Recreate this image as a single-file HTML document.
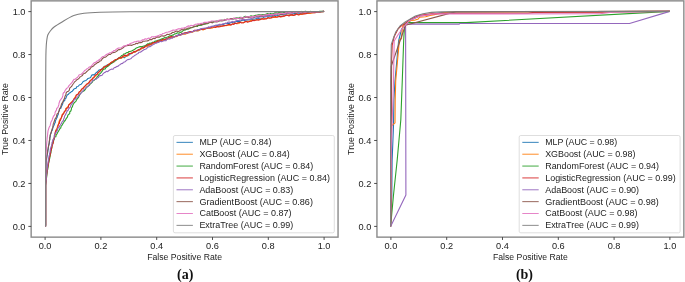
<!DOCTYPE html>
<html><head><meta charset="utf-8"><title>ROC curves</title>
<style>
html,body{margin:0;padding:0;background:#fff;}
body{width:685px;height:282px;overflow:hidden;font-family:"Liberation Sans",sans-serif;}
svg{display:block;will-change:transform;font-family:"Liberation Sans",sans-serif;}
</style></head><body>
<svg width="685" height="282" viewBox="0 0 685 282">
<rect width="685" height="282" fill="#fff"/>
<g transform="translate(0.00,0)">
<g fill="none" stroke-width="1.10" stroke-linejoin="round" stroke-linecap="butt">
<path d="M45.5 226.4 L45.6 225.0 L45.6 223.6 L45.6 222.2 L45.6 220.8 L45.6 219.4 L45.6 218.0 L45.6 216.6 L45.6 215.1 L45.6 213.7 L45.6 212.3 L45.6 210.9 L45.6 209.5 L45.6 208.1 L45.6 206.7 L45.6 205.3 L45.6 203.9 L45.6 202.5 L45.6 201.1 L45.6 199.7 L45.6 198.3 L45.6 196.9 L45.6 195.5 L45.6 194.1 L45.6 192.6 L45.6 191.2 L45.6 189.8 L45.6 188.4 L45.6 187.0 L45.6 185.6 L45.6 184.2 L45.6 182.8 L45.6 181.4 L45.6 180.0 L45.6 178.6 L45.7 177.2 L45.7 175.8 L45.8 174.4 L45.8 173.0 L45.9 171.6 L45.9 170.2 L46.0 168.7 L46.0 167.3 L46.0 165.9 L46.1 164.5 L46.1 163.1 L46.2 161.7 L46.3 160.3 L46.6 159.0 L46.8 157.6 L47.0 156.2 L47.2 154.8 L47.5 153.3 L47.7 152.0 L47.9 150.6 L48.2 149.3 L48.4 147.8 L48.5 146.3 L48.8 145.1 L49.2 143.8 L49.4 142.4 L49.5 141.1 L49.8 139.3 L49.8 137.8 L50.3 136.6 L50.3 135.4 L50.8 133.7 L51.2 132.7 L51.6 131.2 L52.4 130.0 L52.7 128.7 L53.0 127.3 L53.7 125.7 L54.0 125.3 L54.8 123.1 L55.3 122.5 L55.4 120.3 L56.0 119.8 L56.5 118.4 L57.3 116.9 L57.4 116.1 L58.3 114.2 L58.3 113.0 L58.9 111.6 L59.3 110.4 L59.8 108.7 L61.0 108.1 L61.2 106.9 L61.8 105.7 L62.7 103.8 L63.0 102.1 L64.1 100.8 L64.7 100.7 L65.1 98.5 L66.0 98.2 L66.5 96.4 L67.2 95.1 L68.1 94.6 L69.3 93.1 L70.2 92.8 L71.4 91.6 L72.4 91.2 L73.9 89.2 L74.5 88.7 L76.1 88.3 L76.7 86.7 L78.0 86.5 L79.3 85.0 L80.4 84.6 L81.2 84.2 L82.2 83.0 L83.2 81.5 L85.0 80.8 L86.0 80.4 L87.2 79.3 L88.0 78.4 L89.5 77.9 L90.7 77.4 L91.2 76.2 L92.3 74.7 L93.4 74.9 L95.1 74.0 L95.9 72.9 L97.4 71.8 L98.3 70.8 L99.1 70.0 L100.8 69.6 L102.0 68.6 L102.7 68.2 L104.3 66.5 L105.4 65.9 L106.2 66.2 L107.4 64.7 L109.3 64.2 L109.9 63.2 L111.2 63.2 L112.3 62.7 L113.7 62.1 L115.3 60.5 L116.1 60.1 L117.2 59.6 L118.4 58.3 L120.5 58.3 L121.5 58.0 L122.7 57.2 L124.4 57.8 L125.8 56.3 L126.5 56.2 L128.2 55.4 L129.3 54.9 L130.2 54.1 L131.5 53.1 L132.6 52.5 L134.5 52.1 L135.6 51.8 L137.0 50.9 L137.8 50.2 L139.1 50.2 L140.8 48.9 L141.7 48.6 L143.1 48.1 L144.1 46.8 L145.4 46.2 L146.9 45.6 L147.8 45.7 L149.2 45.3 L150.7 44.7 L151.7 43.7 L153.4 42.6 L154.8 42.1 L156.0 42.7 L157.4 41.5 L158.2 41.3 L160.2 40.6 L161.5 40.1 L162.9 39.5 L163.8 40.2 L165.5 39.8 L166.8 39.2 L168.1 38.1 L169.2 37.6 L170.8 37.8 L171.8 36.7 L173.7 37.2 L174.7 36.5 L176.3 36.0 L177.3 35.4 L178.5 34.6 L180.2 34.7 L181.5 33.9 L182.7 33.6 L183.8 33.3 L185.7 33.2 L186.8 33.1 L188.0 32.0 L189.6 32.3 L191.0 31.8 L192.4 31.8 L193.5 31.2 L195.0 30.5 L196.3 30.6 L198.0 30.7 L199.0 30.0 L200.2 29.0 L201.9 29.6 L203.0 29.2 L204.9 28.3 L206.1 28.6 L207.2 28.1 L208.9 27.6 L210.3 27.7 L211.7 27.0 L212.5 26.2 L213.9 26.3 L215.7 25.3 L217.0 25.8 L218.1 25.2 L219.4 25.2 L220.7 25.1 L222.6 24.4 L223.6 24.4 L225.4 23.2 L226.7 23.8 L228.0 23.4 L229.2 23.4 L231.0 22.5 L232.2 22.4 L233.2 22.0 L234.5 22.5 L236.5 21.3 L237.7 21.4 L238.7 21.1 L240.2 21.4 L241.4 20.5 L243.1 20.1 L244.6 20.6 L246.2 19.9 L247.1 20.0 L248.5 19.9 L249.9 19.7 L251.7 19.7 L253.2 19.1 L254.2 19.3 L255.8 18.7 L256.9 18.1 L258.1 18.5 L259.5 18.2 L261.2 18.3 L262.8 18.1 L263.7 17.3 L265.4 16.8 L266.7 16.6 L268.1 16.0 L269.5 16.3 L270.8 16.0 L272.5 16.1 L273.7 15.9 L275.0 15.1 L276.1 15.0 L277.9 15.6 L279.5 15.0 L281.0 14.8 L282.3 14.6 L283.6 15.1 L284.7 14.0 L286.3 14.3 L287.5 13.5 L289.0 13.9 L290.4 14.2 L291.9 13.9 L293.5 13.8 L294.6 13.6 L296.1 13.4 L297.5 12.9 L298.9 13.1 L300.5 13.2 L301.9 13.1 L303.2 12.8 L304.4 12.4 L306.0 12.9 L307.3 12.2 L308.8 12.4 L310.1 12.0 L311.5 12.3 L312.8 12.0 L314.3 11.8 L315.7 12.1 L317.1 11.8 L318.5 11.8 L319.9 11.6 L321.3 11.6 L322.7 11.5 L324.1 11.4" stroke="#1f77b4"/>
<path d="M45.5 226.4 L45.6 225.0 L45.6 223.6 L45.6 222.2 L45.6 220.8 L45.6 219.4 L45.6 218.0 L45.6 216.6 L45.6 215.1 L45.6 213.7 L45.6 212.3 L45.6 210.9 L45.6 209.5 L45.6 208.1 L45.6 206.7 L45.6 205.3 L45.6 203.9 L45.6 202.5 L45.6 201.1 L45.6 199.7 L45.6 198.3 L45.6 196.9 L45.6 195.5 L45.6 194.1 L45.6 192.6 L45.6 191.2 L45.6 189.8 L45.6 188.4 L45.6 187.0 L45.6 185.6 L45.7 184.2 L45.8 182.8 L45.9 181.4 L46.1 180.0 L46.2 178.6 L46.3 177.2 L46.5 175.8 L46.6 174.4 L46.7 173.0 L46.8 171.6 L47.0 170.3 L47.2 168.7 L47.5 167.5 L47.8 166.0 L48.0 164.5 L48.3 163.2 L48.5 162.1 L48.7 160.5 L49.2 159.0 L49.3 158.0 L49.6 156.5 L49.8 154.9 L50.1 153.8 L50.4 152.6 L50.7 151.1 L51.0 149.3 L51.6 147.9 L51.6 147.0 L52.1 145.0 L52.7 143.7 L52.5 142.5 L53.2 141.6 L53.2 139.8 L53.5 138.5 L54.3 137.5 L54.8 136.2 L55.1 134.7 L55.1 132.8 L55.6 131.5 L55.7 130.4 L56.8 128.7 L57.1 127.7 L57.5 126.1 L58.4 124.9 L58.6 123.8 L58.7 122.7 L59.3 120.8 L59.8 119.6 L60.3 118.8 L61.2 117.9 L62.0 116.7 L62.1 114.7 L62.9 113.8 L64.0 112.9 L64.9 111.1 L65.5 110.2 L66.0 108.5 L67.1 107.5 L68.1 106.5 L68.5 105.3 L69.4 104.2 L70.5 103.3 L71.2 102.5 L72.0 101.7 L73.4 100.3 L73.9 99.0 L74.9 97.3 L75.6 96.8 L76.3 95.1 L77.6 94.4 L78.3 93.9 L79.2 92.0 L80.4 91.1 L80.7 90.5 L81.8 89.0 L83.3 88.5 L83.7 87.2 L85.0 86.2 L85.8 85.4 L86.7 84.0 L87.9 83.8 L88.7 82.6 L89.8 81.4 L90.9 80.3 L92.2 79.2 L92.7 77.8 L93.6 77.7 L95.0 76.8 L96.0 74.7 L97.0 74.6 L98.0 73.2 L98.7 72.2 L100.0 70.9 L100.8 70.2 L102.1 69.5 L103.1 68.6 L103.7 67.0 L105.1 66.3 L106.2 66.1 L107.8 65.3 L108.9 63.9 L109.8 64.3 L110.8 62.9 L112.0 61.7 L113.8 62.1 L114.8 60.3 L115.7 59.7 L117.2 59.5 L118.3 58.8 L119.4 58.4 L121.4 58.2 L122.1 57.5 L123.9 56.7 L125.3 56.5 L126.4 55.8 L127.9 55.6 L128.8 54.1 L130.0 53.3 L131.4 53.8 L132.3 52.7 L133.8 52.0 L135.3 52.1 L136.5 50.9 L138.0 50.2 L139.1 50.0 L140.4 49.6 L141.3 48.8 L142.7 48.2 L144.4 47.6 L145.0 46.8 L146.8 46.7 L148.0 46.1 L148.8 45.6 L150.6 44.6 L152.0 44.4 L152.7 43.7 L154.5 42.4 L155.8 42.5 L156.8 42.3 L158.1 41.7 L159.7 40.9 L161.1 40.7 L162.2 40.9 L163.4 39.4 L165.1 40.0 L166.6 39.5 L167.8 39.0 L169.0 38.1 L170.5 37.4 L171.5 37.9 L173.0 37.5 L174.7 36.7 L176.0 36.8 L177.5 35.6 L178.3 35.5 L179.9 35.0 L180.9 34.9 L183.0 34.3 L184.0 33.9 L185.3 34.2 L186.6 33.5 L188.1 33.1 L189.7 32.2 L191.0 32.1 L192.3 32.3 L193.7 31.5 L195.2 30.8 L196.4 30.8 L197.7 31.0 L199.2 30.4 L200.2 29.6 L201.7 29.3 L203.0 29.9 L204.2 29.5 L205.8 28.7 L207.1 28.1 L208.6 28.0 L210.0 27.8 L211.7 28.3 L212.8 27.7 L214.5 27.1 L215.3 26.7 L216.7 27.0 L218.2 26.4 L219.9 26.0 L221.3 26.2 L222.4 26.2 L223.7 26.0 L225.5 25.3 L226.8 25.6 L228.2 25.1 L229.7 25.1 L231.0 24.9 L232.0 24.3 L233.7 23.7 L234.9 23.3 L236.7 23.2 L237.7 23.7 L238.9 23.5 L240.2 22.2 L241.8 22.3 L243.6 22.7 L244.9 22.0 L246.1 21.5 L247.7 21.4 L248.7 21.5 L250.0 20.9 L251.9 20.4 L252.7 20.3 L254.2 20.3 L255.6 20.0 L257.0 19.6 L258.6 19.5 L259.8 19.8 L261.0 18.8 L263.0 18.9 L264.3 18.4 L265.5 19.0 L266.7 18.7 L268.3 18.0 L270.0 17.7 L271.0 17.8 L272.3 17.8 L273.9 17.3 L275.2 17.5 L276.9 17.2 L277.9 16.5 L279.4 15.9 L280.5 16.9 L281.9 16.7 L283.7 16.5 L284.7 15.7 L286.6 15.2 L287.5 15.4 L288.9 15.1 L290.7 14.9 L292.3 15.4 L293.1 15.5 L294.6 14.9 L296.2 14.3 L297.6 14.1 L298.8 15.0 L300.6 14.3 L301.9 14.5 L302.9 14.0 L304.3 13.4 L305.7 13.4 L307.1 13.2 L308.7 13.4 L310.3 13.4 L311.6 12.9 L313.1 12.6 L314.2 12.7 L315.8 12.3 L317.1 12.2 L318.5 12.1 L319.9 12.0 L321.3 11.7 L322.7 11.6 L324.1 11.4" stroke="#ff7f0e"/>
<path d="M45.5 226.4 L45.6 225.0 L45.6 223.6 L45.6 222.2 L45.6 220.8 L45.6 219.4 L45.6 218.0 L45.6 216.6 L45.6 215.1 L45.6 213.7 L45.6 212.3 L45.6 210.9 L45.6 209.5 L45.6 208.1 L45.6 206.7 L45.6 205.3 L45.6 203.9 L45.6 202.5 L45.6 201.1 L45.6 199.7 L45.6 198.3 L45.6 196.9 L45.6 195.5 L45.6 194.1 L45.6 192.6 L45.6 191.2 L45.6 189.8 L45.6 188.4 L45.6 187.0 L45.6 185.6 L45.7 184.2 L45.9 182.8 L46.1 181.4 L46.2 180.0 L46.4 178.7 L46.6 177.3 L46.8 175.8 L46.9 174.5 L47.2 173.0 L47.3 171.6 L47.5 170.2 L47.8 169.0 L48.0 167.6 L48.2 166.0 L48.5 164.6 L48.6 163.3 L49.0 161.8 L49.1 160.8 L49.4 159.4 L49.9 157.7 L50.0 156.4 L50.3 155.1 L50.5 153.7 L51.0 152.3 L51.0 151.1 L51.2 149.4 L51.8 148.2 L51.8 146.3 L52.1 145.5 L52.3 144.2 L53.1 142.2 L53.5 141.3 L53.9 139.8 L54.4 139.0 L54.6 137.0 L55.8 136.8 L56.2 135.0 L57.2 133.6 L57.7 132.4 L58.4 131.5 L59.1 130.0 L60.1 128.4 L60.7 128.0 L61.2 126.2 L62.3 125.0 L62.6 124.1 L63.7 122.5 L64.1 121.5 L65.2 120.5 L66.0 118.9 L66.4 118.3 L67.5 116.9 L67.8 115.3 L68.8 114.2 L69.7 113.8 L69.8 111.8 L70.8 111.0 L71.4 109.3 L71.5 108.0 L72.5 106.7 L72.7 105.5 L73.3 104.2 L74.3 102.7 L74.5 102.5 L75.9 101.4 L76.4 100.2 L77.6 98.2 L78.3 97.8 L79.0 96.2 L79.6 94.9 L80.3 93.4 L81.4 92.6 L82.6 91.3 L83.7 91.1 L84.7 90.3 L85.6 88.9 L86.0 88.1 L87.1 86.6 L88.5 85.9 L89.3 85.4 L90.4 83.7 L91.1 83.3 L92.3 82.2 L93.2 80.5 L94.3 80.3 L95.0 79.2 L96.5 78.2 L97.4 76.2 L98.2 76.2 L98.8 74.5 L99.9 73.8 L101.0 72.7 L102.2 71.1 L102.7 70.2 L103.7 69.1 L105.2 69.0 L105.7 67.7 L107.0 66.7 L108.1 66.2 L109.4 65.0 L110.2 64.1 L111.3 63.5 L112.8 62.4 L113.5 61.3 L114.8 61.0 L116.2 59.9 L117.4 59.3 L118.2 58.2 L119.4 57.7 L120.5 56.9 L121.6 55.5 L122.8 55.2 L123.6 54.1 L125.0 53.8 L126.7 52.6 L128.0 52.6 L128.8 51.6 L130.0 51.5 L131.6 51.0 L133.0 50.2 L134.3 49.5 L135.1 49.0 L136.4 47.9 L138.2 47.3 L139.1 46.9 L140.9 46.5 L141.6 46.8 L143.0 46.3 L144.7 45.8 L146.3 45.0 L147.5 43.9 L148.8 43.9 L150.0 42.9 L151.4 43.4 L152.2 42.2 L153.9 42.3 L155.0 41.1 L156.3 41.1 L158.0 40.3 L159.0 39.9 L160.3 39.4 L161.4 39.0 L163.4 38.4 L164.6 37.6 L165.8 37.9 L167.1 37.1 L168.3 36.7 L169.9 35.7 L170.7 35.9 L172.6 35.1 L173.6 34.9 L174.7 33.9 L176.0 33.7 L177.4 32.8 L179.0 33.2 L180.1 32.4 L181.5 32.1 L182.9 30.9 L183.9 30.1 L185.4 29.9 L186.5 29.3 L187.8 29.2 L189.0 28.9 L190.5 27.8 L191.8 27.7 L193.5 27.0 L194.6 26.8 L196.2 26.1 L197.5 26.4 L198.6 25.2 L199.8 25.4 L201.5 25.3 L203.0 24.1 L203.9 23.8 L205.2 23.9 L207.1 23.8 L208.0 23.4 L209.4 22.5 L211.1 21.8 L212.0 22.3 L213.5 21.5 L215.1 21.7 L216.1 21.0 L217.8 21.0 L219.0 20.9 L220.9 20.5 L222.0 20.0 L223.2 20.4 L224.5 20.5 L226.5 19.3 L227.9 19.5 L229.1 19.7 L230.2 19.4 L231.8 19.3 L232.9 19.1 L234.8 18.8 L235.9 17.9 L237.3 18.0 L238.8 18.1 L240.1 17.3 L241.6 17.7 L242.6 17.8 L244.4 16.6 L245.9 16.4 L246.9 16.9 L248.5 16.5 L249.9 16.2 L251.1 15.7 L252.3 16.2 L254.2 15.8 L255.6 15.4 L256.6 15.3 L258.4 14.7 L259.6 14.8 L261.2 14.7 L262.2 14.6 L263.8 14.9 L265.1 14.8 L266.3 14.0 L267.7 13.6 L269.6 14.2 L270.5 13.4 L272.1 13.9 L273.8 13.7 L275.0 12.8 L276.3 12.7 L277.8 13.1 L278.9 12.6 L280.7 12.2 L282.2 13.1 L283.7 12.4 L284.8 12.5 L286.2 12.9 L287.7 12.0 L289.2 12.1 L290.4 12.3 L291.4 12.3 L293.3 11.9 L294.6 11.8 L295.8 11.9 L297.1 11.8 L298.9 11.7 L300.2 12.3 L301.9 11.4 L303.2 11.9 L304.2 11.6 L305.7 11.3 L307.2 12.0 L308.6 11.9 L310.1 11.4 L311.6 11.7 L313.0 11.7 L314.3 11.5 L315.7 11.7 L317.1 11.5 L318.5 11.5 L319.8 11.4 L321.3 11.4 L322.7 11.4 L324.1 11.4" stroke="#2ca02c"/>
<path d="M45.5 226.4 L45.6 225.0 L45.6 223.6 L45.6 222.2 L45.6 220.8 L45.6 219.4 L45.6 218.0 L45.6 216.6 L45.6 215.1 L45.6 213.7 L45.6 212.3 L45.6 210.9 L45.6 209.5 L45.6 208.1 L45.6 206.7 L45.6 205.3 L45.6 203.9 L45.6 202.5 L45.6 201.1 L45.6 199.7 L45.6 198.3 L45.6 196.9 L45.6 195.5 L45.6 194.0 L45.6 192.6 L45.6 191.2 L45.6 189.8 L45.6 188.4 L45.6 187.0 L45.6 185.6 L45.7 184.2 L45.8 182.8 L46.0 181.4 L46.1 180.0 L46.3 178.6 L46.4 177.2 L46.6 175.8 L46.7 174.4 L46.8 173.0 L47.1 171.7 L47.2 170.3 L47.4 168.8 L47.7 167.5 L47.9 166.2 L48.2 164.8 L48.4 163.2 L48.7 161.8 L48.9 160.7 L49.1 158.9 L49.3 157.6 L49.9 156.3 L50.0 154.8 L50.6 153.6 L50.6 152.0 L50.9 150.7 L51.5 149.3 L51.5 148.2 L51.9 147.2 L52.1 145.5 L52.8 144.0 L53.3 142.7 L53.2 141.2 L53.4 139.9 L53.9 139.1 L54.6 137.2 L54.4 135.6 L54.9 134.2 L55.2 133.6 L55.5 131.2 L56.5 130.5 L57.1 129.0 L57.5 128.0 L57.9 126.8 L58.2 124.7 L58.5 124.3 L59.5 123.1 L59.6 121.4 L60.5 120.1 L61.0 118.7 L61.4 117.6 L61.7 116.5 L62.7 114.2 L63.5 114.1 L64.1 111.9 L65.1 110.9 L66.0 110.4 L66.1 108.6 L67.4 108.0 L68.3 107.3 L68.7 105.0 L70.1 103.9 L70.9 102.9 L71.7 102.6 L72.6 101.2 L73.5 99.7 L74.2 98.7 L75.2 98.1 L75.8 96.7 L76.3 95.0 L77.6 94.5 L78.7 93.5 L79.0 92.1 L80.3 91.2 L80.8 90.6 L82.3 88.7 L83.1 88.0 L84.3 86.9 L84.9 86.1 L86.4 84.7 L86.8 84.3 L88.3 83.1 L89.0 82.6 L90.2 80.6 L91.3 79.8 L91.8 79.5 L92.9 78.5 L93.7 77.6 L94.7 75.7 L95.9 74.9 L96.9 74.6 L98.0 72.5 L98.7 72.2 L99.9 71.4 L100.8 69.6 L101.7 69.5 L102.7 68.4 L104.2 67.3 L105.2 66.6 L106.1 66.2 L107.5 65.5 L108.5 64.7 L110.1 63.7 L111.1 62.4 L112.5 61.9 L113.6 60.9 L114.4 60.2 L116.1 59.5 L117.4 59.0 L118.4 58.3 L119.7 57.4 L120.9 57.9 L122.0 57.0 L123.4 56.0 L124.5 55.1 L126.4 55.6 L127.6 55.0 L129.0 53.6 L130.0 53.5 L131.3 53.4 L132.7 52.9 L133.5 51.9 L135.2 51.4 L136.4 50.9 L137.5 50.4 L138.8 49.5 L140.5 49.0 L141.3 47.8 L142.6 47.7 L144.4 47.4 L145.2 46.2 L146.8 45.5 L147.8 44.6 L148.9 44.6 L150.5 44.1 L151.6 43.9 L153.0 42.4 L153.9 42.8 L155.9 42.3 L157.0 41.2 L158.0 40.7 L159.4 41.1 L161.2 40.5 L162.0 39.5 L163.5 40.0 L164.8 39.4 L166.5 38.7 L168.0 37.9 L169.1 37.4 L170.1 36.9 L171.6 36.6 L172.8 37.2 L174.3 36.7 L175.9 36.1 L177.3 36.0 L178.8 35.3 L179.9 34.9 L181.4 34.3 L182.5 33.4 L184.1 33.5 L184.9 32.7 L186.9 32.5 L187.9 32.6 L189.6 31.8 L190.6 31.6 L191.7 31.8 L193.1 31.5 L194.5 30.2 L196.4 30.6 L197.3 30.0 L198.8 29.8 L200.0 29.6 L202.0 29.1 L203.3 29.2 L204.3 28.9 L206.0 28.4 L206.9 28.2 L208.9 27.7 L210.1 28.2 L211.4 26.9 L212.8 27.0 L214.4 27.3 L215.4 27.4 L217.0 26.5 L218.5 26.9 L220.0 26.7 L221.2 26.3 L222.6 25.9 L224.2 25.5 L225.0 25.7 L226.7 25.3 L228.1 24.7 L229.2 24.2 L231.0 25.0 L232.3 23.8 L233.9 24.4 L235.0 23.2 L236.6 23.7 L237.8 22.7 L239.3 22.5 L240.5 22.4 L241.8 23.0 L243.5 22.7 L244.5 21.9 L246.1 21.3 L247.4 22.2 L249.0 21.8 L250.1 21.3 L251.8 21.1 L252.9 20.2 L254.0 20.8 L256.1 19.9 L257.3 19.8 L258.6 20.1 L259.8 19.6 L261.1 19.2 L262.3 18.7 L263.9 19.2 L265.2 18.8 L266.5 18.8 L268.0 17.5 L269.4 18.2 L271.1 18.0 L272.4 16.8 L273.7 17.0 L275.5 16.4 L276.4 17.0 L277.7 17.0 L279.2 16.4 L280.9 16.6 L281.8 16.4 L283.3 16.1 L284.6 16.0 L286.1 15.2 L287.4 15.2 L289.0 15.9 L290.6 15.0 L292.3 14.6 L293.1 15.4 L295.1 14.9 L296.5 14.1 L297.8 14.7 L299.1 14.7 L300.1 13.8 L301.5 14.0 L303.2 13.9 L304.5 13.9 L306.1 13.7 L307.1 13.1 L308.6 13.0 L310.2 12.8 L311.6 12.8 L312.9 12.8 L314.4 12.4 L315.7 12.6 L317.1 12.1 L318.5 12.1 L319.9 12.0 L321.3 11.7 L322.7 11.6 L324.1 11.4" stroke="#d62728"/>
<path d="M45.5 226.4 L45.6 225.0 L45.6 223.6 L45.6 222.2 L45.6 220.8 L45.6 219.4 L45.6 218.0 L45.6 216.6 L45.6 215.2 L45.6 213.7 L45.6 212.3 L45.6 210.9 L45.6 209.5 L45.6 208.1 L45.6 206.7 L45.6 205.3 L45.6 203.9 L45.6 202.5 L45.6 201.1 L45.6 199.7 L45.6 198.3 L45.6 196.9 L45.6 195.5 L45.6 194.1 L45.6 192.7 L45.6 191.3 L45.6 189.8 L45.6 188.4 L45.6 187.0 L45.6 185.6 L45.7 184.2 L45.8 182.8 L45.9 181.4 L46.1 180.0 L46.2 178.6 L46.3 177.3 L46.4 175.8 L46.6 174.5 L46.7 173.0 L46.8 171.7 L46.9 170.3 L47.2 168.9 L47.3 167.5 L47.5 166.0 L47.7 164.8 L47.9 163.4 L48.1 161.8 L48.3 160.4 L48.4 159.0 L48.8 157.9 L49.0 156.1 L49.5 155.0 L49.6 153.4 L49.9 152.4 L50.2 150.8 L50.3 149.7 L50.6 148.1 L51.2 146.4 L51.6 145.7 L51.9 144.3 L52.0 142.6 L52.5 141.6 L52.9 139.9 L53.8 139.0 L54.2 137.2 L54.2 136.2 L54.7 134.3 L55.3 132.9 L56.0 132.7 L57.1 131.1 L57.4 129.5 L57.8 128.2 L59.0 127.6 L59.4 126.3 L60.4 125.0 L61.1 123.9 L61.7 122.7 L62.4 121.3 L63.4 120.3 L63.6 119.3 L64.4 117.5 L64.5 116.2 L65.2 115.1 L65.9 113.9 L66.5 112.6 L67.0 111.2 L68.1 110.3 L68.5 109.1 L69.7 107.7 L70.5 106.8 L70.9 105.1 L71.4 104.3 L72.7 102.7 L73.2 101.8 L74.0 99.9 L75.1 99.4 L76.0 98.3 L77.0 97.7 L78.0 96.6 L78.5 95.0 L79.8 94.6 L80.7 93.6 L82.0 91.9 L82.8 91.1 L83.5 90.0 L84.7 89.1 L85.6 87.9 L86.8 87.3 L87.8 86.5 L88.5 85.8 L89.3 84.2 L90.5 83.2 L91.3 82.7 L92.5 80.7 L93.8 79.9 L94.9 79.4 L96.0 79.3 L97.4 77.9 L98.5 77.4 L99.3 75.9 L100.7 75.6 L102.1 75.3 L103.0 73.8 L104.3 72.6 L104.9 72.5 L106.6 71.3 L107.8 71.6 L108.9 70.4 L110.1 69.7 L111.9 69.1 L113.1 69.2 L114.1 67.8 L115.7 67.4 L116.5 66.6 L118.2 66.1 L118.8 65.4 L119.9 64.7 L121.3 63.6 L122.7 63.4 L123.3 62.3 L124.7 62.0 L126.3 60.6 L127.2 59.8 L129.0 59.4 L130.0 59.0 L131.2 58.4 L132.4 57.0 L133.6 56.4 L134.5 55.6 L135.5 55.1 L136.8 54.1 L138.2 53.5 L138.8 52.3 L140.3 52.3 L141.8 51.2 L142.4 50.8 L143.9 49.8 L145.3 49.2 L146.4 48.8 L147.5 47.5 L149.1 46.6 L149.9 46.7 L151.0 46.0 L152.7 44.8 L153.6 44.5 L155.3 43.2 L156.3 43.2 L157.7 42.5 L158.8 42.4 L160.6 41.3 L161.5 41.7 L163.2 41.1 L164.0 40.7 L166.0 40.6 L167.2 39.0 L168.6 38.8 L169.8 39.2 L171.2 37.8 L172.2 38.3 L173.4 37.4 L174.9 36.4 L176.4 35.9 L177.4 35.8 L178.7 35.0 L180.4 35.3 L181.9 34.2 L182.9 33.9 L184.4 33.7 L186.0 33.2 L186.7 33.2 L188.1 32.8 L189.8 32.7 L191.1 32.0 L192.3 31.6 L193.6 31.4 L195.2 30.3 L196.3 30.2 L198.1 29.6 L199.4 29.8 L200.3 29.5 L201.7 28.5 L203.4 28.3 L205.0 28.3 L205.9 28.3 L207.1 27.9 L208.5 26.9 L210.5 27.2 L211.3 26.2 L213.2 26.5 L214.5 25.6 L215.7 25.5 L216.8 25.1 L218.4 24.8 L219.7 24.2 L221.3 24.5 L222.7 23.9 L224.1 23.7 L225.3 23.4 L226.8 23.0 L227.7 22.3 L229.1 22.0 L231.0 22.3 L232.3 21.4 L233.5 22.2 L234.9 21.4 L236.2 20.7 L237.4 20.5 L238.9 20.5 L240.7 20.0 L241.6 19.8 L242.9 19.6 L244.3 19.6 L245.6 19.8 L247.2 19.6 L248.8 19.0 L250.0 19.0 L251.2 18.5 L252.7 18.3 L254.4 17.5 L255.4 17.1 L256.8 16.9 L258.3 17.8 L259.7 16.8 L261.1 16.5 L262.7 16.8 L263.7 16.1 L265.4 16.7 L266.8 15.9 L268.4 15.1 L269.2 15.8 L270.8 14.8 L272.3 15.7 L273.7 14.7 L274.8 14.1 L276.7 14.5 L278.2 13.8 L279.1 13.6 L280.6 13.5 L281.9 13.7 L283.3 13.2 L284.5 14.1 L286.0 13.4 L287.6 13.3 L288.7 12.9 L290.1 13.0 L292.1 12.9 L293.5 12.3 L294.3 12.5 L296.0 12.4 L297.3 12.3 L299.0 12.6 L300.1 12.0 L301.8 11.7 L302.8 11.8 L304.2 12.2 L306.0 11.8 L307.1 11.6 L308.5 11.5 L310.0 11.9 L311.4 11.5 L312.9 11.5 L314.2 11.6 L315.6 11.5 L317.1 11.6 L318.5 11.6 L319.9 11.6 L321.3 11.5 L322.7 11.5 L324.1 11.4" stroke="#9467bd"/>
<path d="M45.5 226.4 L45.6 225.0 L45.6 223.6 L45.6 222.2 L45.6 220.8 L45.6 219.4 L45.6 217.9 L45.6 216.5 L45.6 215.1 L45.6 213.7 L45.6 212.3 L45.6 210.9 L45.6 209.5 L45.6 208.1 L45.6 206.7 L45.6 205.3 L45.6 203.9 L45.6 202.5 L45.6 201.0 L45.6 199.6 L45.6 198.2 L45.6 196.8 L45.6 195.4 L45.6 194.0 L45.6 192.6 L45.6 191.2 L45.6 189.8 L45.6 188.4 L45.6 187.0 L45.6 185.6 L45.6 184.1 L45.6 182.7 L45.6 181.3 L45.6 179.9 L45.6 178.5 L45.7 177.1 L45.7 175.7 L45.7 174.3 L45.7 172.9 L45.8 171.5 L45.8 170.1 L45.8 168.7 L45.9 167.3 L45.9 165.8 L45.9 164.4 L46.0 163.0 L46.0 161.6 L46.1 160.2 L46.4 158.8 L46.6 157.5 L46.8 156.0 L47.1 154.7 L47.3 153.3 L47.6 151.9 L47.7 150.5 L48.0 149.0 L48.2 147.7 L48.5 146.3 L48.7 145.1 L49.0 143.5 L49.2 142.1 L49.3 140.8 L49.7 139.6 L49.8 137.7 L50.0 136.3 L50.1 135.4 L50.5 134.0 L51.0 132.8 L51.6 130.8 L51.7 130.2 L52.3 128.4 L52.8 127.4 L53.0 125.7 L53.2 124.2 L53.6 123.2 L54.3 121.3 L54.7 119.9 L54.9 119.2 L55.7 118.2 L56.4 116.7 L56.6 115.6 L57.1 114.0 L58.3 113.1 L58.8 111.2 L59.2 110.4 L59.4 109.2 L60.5 107.4 L61.0 106.1 L61.2 105.1 L61.6 103.9 L62.8 102.0 L63.4 100.5 L63.9 99.4 L64.5 98.3 L65.0 96.5 L65.0 96.2 L66.0 94.6 L66.1 92.8 L67.2 91.6 L68.5 91.3 L69.3 90.1 L69.7 88.2 L70.8 87.1 L71.6 86.4 L72.4 84.9 L72.9 84.3 L73.7 83.2 L74.7 81.7 L75.6 81.1 L76.9 79.7 L77.8 79.2 L79.3 78.1 L79.9 77.0 L81.0 76.4 L82.4 75.5 L83.0 74.2 L84.2 73.4 L85.3 73.2 L86.5 71.8 L87.6 70.9 L88.8 69.6 L89.7 69.4 L90.5 68.1 L91.7 66.6 L92.6 66.6 L93.8 65.7 L94.9 64.4 L96.0 63.8 L97.6 62.5 L98.6 62.5 L99.5 61.1 L101.0 60.8 L101.7 59.7 L102.8 58.2 L104.5 57.2 L105.6 57.2 L106.5 56.3 L107.8 55.2 L108.9 54.4 L110.4 54.5 L111.6 53.2 L112.8 52.6 L114.2 52.5 L115.6 51.9 L116.6 51.3 L117.4 50.5 L118.6 49.6 L120.0 49.6 L121.2 49.0 L123.1 47.8 L124.3 46.7 L125.1 46.1 L126.4 45.7 L128.3 45.4 L129.5 45.3 L130.5 45.1 L131.9 45.4 L133.4 44.5 L134.9 44.2 L136.2 43.3 L137.3 43.7 L138.7 42.8 L140.5 42.6 L141.9 42.5 L143.0 41.2 L144.4 41.3 L145.9 41.0 L147.2 40.9 L148.4 40.6 L150.0 39.4 L151.4 39.8 L152.7 38.8 L153.6 38.2 L155.0 38.6 L156.4 37.2 L157.7 36.9 L159.3 37.3 L160.8 36.1 L161.8 35.7 L163.5 36.1 L164.6 35.9 L165.9 35.2 L167.2 34.3 L169.0 34.5 L170.0 34.1 L171.4 33.6 L172.3 32.4 L173.7 32.5 L175.5 31.6 L176.7 31.1 L178.2 31.5 L179.1 31.3 L180.8 29.9 L181.9 29.5 L183.6 30.0 L184.5 28.7 L186.2 29.2 L187.6 28.3 L188.5 28.1 L190.1 27.9 L191.6 27.5 L193.2 26.9 L194.5 26.1 L195.2 26.5 L196.6 26.2 L198.3 24.7 L199.5 25.1 L200.9 24.6 L202.1 24.6 L203.7 24.4 L204.9 23.9 L206.5 23.3 L207.6 23.2 L209.6 22.4 L210.7 22.0 L212.4 22.9 L213.6 22.1 L214.5 21.4 L216.4 21.9 L218.0 21.7 L218.9 20.8 L220.4 20.6 L221.8 21.0 L223.1 20.8 L224.7 19.4 L226.1 20.0 L227.4 19.0 L229.0 19.5 L230.1 18.9 L231.2 18.6 L232.7 18.8 L234.1 18.3 L235.9 18.9 L237.4 18.2 L238.7 18.5 L239.6 18.7 L241.2 17.7 L242.5 18.4 L243.9 17.6 L245.5 17.4 L247.0 17.0 L248.3 17.4 L249.8 17.3 L250.9 17.2 L252.9 16.8 L254.0 17.1 L255.1 16.2 L257.1 16.1 L258.1 16.1 L259.9 16.1 L261.2 15.5 L262.2 15.9 L263.6 15.8 L265.1 14.9 L266.2 15.2 L267.9 14.7 L269.1 14.4 L270.5 14.6 L272.0 14.8 L273.8 14.7 L275.1 14.1 L276.3 14.5 L278.0 13.8 L278.8 13.4 L280.5 14.3 L281.7 14.1 L283.4 14.0 L285.0 13.0 L286.3 12.9 L287.3 13.1 L288.9 12.6 L290.2 12.6 L291.5 12.4 L292.8 12.5 L294.4 12.6 L296.1 12.7 L297.4 12.2 L298.9 12.0 L300.0 11.9 L301.7 11.9 L302.8 12.1 L304.4 12.3 L305.9 12.2 L307.1 12.4 L308.7 11.9 L310.0 12.0 L311.3 12.0 L313.0 11.8 L314.2 11.7 L315.8 11.7 L317.0 11.8 L318.5 11.8 L319.9 11.6 L321.3 11.5 L322.7 11.4 L324.1 11.4" stroke="#8c564b"/>
<path d="M45.5 226.4 L45.6 225.0 L45.6 223.6 L45.6 222.2 L45.6 220.8 L45.6 219.4 L45.6 217.9 L45.6 216.5 L45.6 215.1 L45.6 213.7 L45.6 212.3 L45.6 210.9 L45.6 209.5 L45.6 208.1 L45.6 206.7 L45.6 205.3 L45.6 203.9 L45.6 202.5 L45.6 201.0 L45.6 199.6 L45.6 198.2 L45.6 196.8 L45.6 195.4 L45.6 194.0 L45.6 192.6 L45.6 191.2 L45.6 189.8 L45.6 188.4 L45.6 187.0 L45.6 185.6 L45.6 184.1 L45.6 182.7 L45.6 181.3 L45.6 179.9 L45.6 178.5 L45.6 177.1 L45.6 175.7 L45.6 174.3 L45.6 172.9 L45.6 171.5 L45.6 170.1 L45.7 168.7 L45.7 167.2 L45.7 165.8 L45.7 164.4 L45.7 163.0 L45.7 161.6 L45.7 160.2 L45.7 158.8 L45.8 157.4 L45.9 156.0 L46.0 154.6 L46.1 153.2 L46.2 151.8 L46.3 150.4 L46.4 149.0 L46.5 147.6 L46.5 146.2 L46.6 144.7 L46.7 143.4 L46.8 142.0 L47.0 140.5 L47.1 139.2 L47.2 137.6 L47.4 136.3 L47.6 134.8 L47.7 133.4 L47.9 132.1 L48.0 130.9 L48.5 129.3 L48.9 128.0 L49.5 126.6 L50.1 125.7 L50.5 124.1 L50.8 122.5 L51.4 121.3 L52.2 119.9 L52.3 119.3 L53.1 117.2 L53.7 115.7 L54.2 115.6 L55.0 113.9 L55.1 112.2 L55.6 111.4 L56.4 110.1 L56.8 108.2 L57.7 107.8 L58.3 106.3 L58.8 104.9 L59.0 103.3 L59.6 101.5 L60.0 100.5 L60.7 99.7 L61.8 98.1 L62.3 97.5 L62.9 95.4 L63.0 94.0 L63.5 92.7 L64.4 92.2 L65.1 90.4 L65.8 89.7 L66.4 88.5 L67.9 87.6 L68.7 86.1 L69.2 85.4 L70.2 84.4 L71.6 82.8 L72.1 82.4 L73.3 80.4 L73.8 79.4 L75.4 79.2 L76.0 78.4 L77.6 77.3 L78.3 76.2 L79.2 74.7 L80.9 74.5 L81.6 74.0 L82.6 73.0 L84.0 71.3 L84.6 70.5 L85.7 69.9 L86.8 68.8 L87.8 68.5 L89.1 67.1 L90.4 66.8 L91.4 65.9 L92.6 64.6 L93.7 63.2 L94.8 62.5 L95.6 62.4 L96.8 61.2 L98.4 60.4 L99.2 59.5 L100.5 59.0 L101.3 57.9 L102.5 56.7 L104.0 56.2 L105.0 55.6 L106.4 54.4 L107.4 53.9 L108.6 53.5 L109.9 52.7 L111.1 52.5 L112.6 51.8 L114.0 50.5 L115.0 50.7 L116.4 49.1 L117.2 48.8 L118.4 48.0 L119.7 48.0 L121.6 47.7 L122.4 46.9 L124.1 45.7 L125.5 46.2 L126.3 45.6 L127.8 44.5 L129.5 44.4 L130.2 43.4 L131.8 42.9 L133.0 42.5 L134.7 41.7 L135.9 41.8 L136.9 41.3 L138.7 41.1 L139.6 41.3 L141.5 40.9 L142.4 39.7 L143.7 39.9 L145.2 38.7 L146.6 39.3 L148.3 38.1 L149.2 38.5 L150.8 37.8 L151.8 36.7 L153.6 36.7 L154.5 36.9 L156.3 36.4 L157.2 36.0 L158.5 35.6 L160.2 34.6 L161.6 34.8 L162.7 33.5 L164.3 33.2 L165.3 32.7 L166.6 32.3 L168.1 32.0 L169.8 31.6 L171.0 31.0 L172.2 30.4 L173.5 30.0 L175.2 30.2 L176.1 29.7 L178.0 28.9 L179.3 28.9 L180.4 28.9 L181.7 28.1 L183.2 28.3 L184.3 27.7 L186.0 27.2 L187.1 26.5 L188.2 25.9 L189.6 26.3 L191.1 25.2 L192.3 25.7 L194.3 25.1 L195.2 24.3 L196.6 24.2 L197.9 23.8 L199.3 24.1 L201.2 23.3 L202.0 23.6 L203.5 22.6 L204.6 22.4 L206.4 22.4 L207.6 22.2 L208.8 21.7 L210.3 21.6 L211.6 21.0 L213.2 21.0 L214.8 21.2 L216.3 21.1 L217.7 21.2 L218.9 20.3 L220.7 19.9 L221.9 20.3 L222.8 20.3 L224.8 19.8 L226.1 19.9 L227.0 19.4 L228.7 19.6 L230.3 19.4 L231.6 19.3 L233.0 19.0 L234.1 18.0 L235.4 18.2 L236.8 18.7 L238.5 18.2 L240.0 18.2 L241.3 17.2 L242.9 17.9 L244.1 17.5 L245.6 16.8 L247.1 16.9 L248.0 16.7 L249.9 16.5 L251.3 17.3 L252.5 16.4 L253.9 16.6 L255.5 16.4 L256.8 15.6 L257.8 15.6 L259.7 15.5 L260.9 15.0 L262.0 15.2 L263.8 15.5 L265.2 14.9 L266.5 14.9 L267.9 14.4 L269.6 14.3 L271.0 15.0 L271.8 14.3 L273.7 14.8 L274.9 13.8 L276.1 14.4 L277.5 13.9 L278.8 13.7 L280.8 13.1 L282.1 13.4 L283.6 13.6 L284.5 13.7 L286.1 12.5 L287.2 13.0 L288.9 12.6 L290.1 12.5 L291.6 13.0 L292.8 12.8 L294.8 11.9 L296.3 12.5 L297.6 11.9 L298.7 12.0 L300.5 12.2 L301.5 11.9 L302.8 11.5 L304.2 12.3 L305.7 12.3 L307.1 11.7 L308.6 11.6 L310.0 12.1 L311.6 12.0 L312.9 12.0 L314.4 11.8 L315.7 11.5 L317.1 11.6 L318.5 11.7 L319.9 11.5 L321.3 11.5 L322.7 11.5 L324.1 11.4" stroke="#e377c2"/>
<path d="M45.60 226.40 C45.60 213.67 45.58 174.40 45.60 150.00 C45.62 125.60 45.65 95.83 45.70 80.00 C45.75 64.17 45.80 60.83 45.90 55.00 C46.00 49.17 46.15 47.50 46.30 45.00 C46.45 42.50 46.55 41.67 46.80 40.00 C47.05 38.33 47.22 36.50 47.80 35.00 C48.38 33.50 49.25 32.33 50.30 31.00 C51.35 29.67 52.13 28.52 54.10 27.00 C56.07 25.48 58.82 23.80 62.10 21.90 C65.38 20.00 70.15 17.03 73.80 15.60 C77.45 14.17 79.63 13.87 84.00 13.30 C88.37 12.73 92.33 12.47 100.00 12.20 C107.67 11.93 113.33 11.80 130.00 11.70 C146.67 11.60 167.65 11.62 200.00 11.60 C232.35 11.58 303.42 11.60 324.10 11.60" stroke="#7f7f7f"/>
</g>
<rect x="31.15" y="0.86" width="306.90" height="236.28" fill="none" stroke="#8a8a8a" stroke-width="1.40"/>
<g stroke="#3a3a3a" stroke-width="0.9">
<line x1="45.10" y1="237.14" x2="45.10" y2="239.94"/>
<line x1="28.35" y1="226.40" x2="31.15" y2="226.40"/>
<line x1="100.90" y1="237.14" x2="100.90" y2="239.94"/>
<line x1="28.35" y1="183.44" x2="31.15" y2="183.44"/>
<line x1="156.70" y1="237.14" x2="156.70" y2="239.94"/>
<line x1="28.35" y1="140.48" x2="31.15" y2="140.48"/>
<line x1="212.50" y1="237.14" x2="212.50" y2="239.94"/>
<line x1="28.35" y1="97.52" x2="31.15" y2="97.52"/>
<line x1="268.30" y1="237.14" x2="268.30" y2="239.94"/>
<line x1="28.35" y1="54.56" x2="31.15" y2="54.56"/>
<line x1="324.10" y1="237.14" x2="324.10" y2="239.94"/>
<line x1="28.35" y1="11.60" x2="31.15" y2="11.60"/>
</g>
<g fill="#222" font-size="8.50px">
<text x="45.10" y="249.25" text-anchor="middle" textLength="12.82" lengthAdjust="spacingAndGlyphs">0.0</text>
<text x="25.50" y="229.70" text-anchor="end" textLength="12.82" lengthAdjust="spacingAndGlyphs">0.0</text>
<text x="100.90" y="249.25" text-anchor="middle" textLength="12.82" lengthAdjust="spacingAndGlyphs">0.2</text>
<text x="25.50" y="186.74" text-anchor="end" textLength="12.82" lengthAdjust="spacingAndGlyphs">0.2</text>
<text x="156.70" y="249.25" text-anchor="middle" textLength="12.82" lengthAdjust="spacingAndGlyphs">0.4</text>
<text x="25.50" y="143.78" text-anchor="end" textLength="12.82" lengthAdjust="spacingAndGlyphs">0.4</text>
<text x="212.50" y="249.25" text-anchor="middle" textLength="12.82" lengthAdjust="spacingAndGlyphs">0.6</text>
<text x="25.50" y="100.82" text-anchor="end" textLength="12.82" lengthAdjust="spacingAndGlyphs">0.6</text>
<text x="268.30" y="249.25" text-anchor="middle" textLength="12.82" lengthAdjust="spacingAndGlyphs">0.8</text>
<text x="25.50" y="57.86" text-anchor="end" textLength="12.82" lengthAdjust="spacingAndGlyphs">0.8</text>
<text x="324.10" y="249.25" text-anchor="middle" textLength="12.82" lengthAdjust="spacingAndGlyphs">1.0</text>
<text x="25.50" y="14.90" text-anchor="end" textLength="12.82" lengthAdjust="spacingAndGlyphs">1.0</text>
<text x="184.60" y="259.50" text-anchor="middle" textLength="74.91" lengthAdjust="spacingAndGlyphs">False Positive Rate</text>
<text x="0.00" y="0.00" text-anchor="middle" textLength="71.80" lengthAdjust="spacingAndGlyphs" transform="translate(8.2,119.00) rotate(-90)">True Positive Rate</text>
<rect x="173.40" y="135.50" width="160.90" height="97.30" rx="1.6" fill="#fff" fill-opacity="0.8" stroke="#d6d6d6" stroke-width="0.8"/>
<line x1="176.5" y1="142.35" x2="192.9" y2="142.35" stroke="#1f77b4" stroke-width="0.90"/>
<text x="199.40" y="145.25" text-anchor="start" textLength="72.02" lengthAdjust="spacingAndGlyphs">MLP (AUC = 0.84)</text>
<line x1="176.5" y1="154.21" x2="192.9" y2="154.21" stroke="#ff7f0e" stroke-width="0.90"/>
<text x="199.40" y="157.11" text-anchor="start" textLength="90.23" lengthAdjust="spacingAndGlyphs">XGBoost (AUC = 0.84)</text>
<line x1="176.5" y1="166.07" x2="192.9" y2="166.07" stroke="#2ca02c" stroke-width="0.90"/>
<text x="199.40" y="168.97" text-anchor="start" textLength="113.82" lengthAdjust="spacingAndGlyphs">RandomForest (AUC = 0.84)</text>
<line x1="176.5" y1="177.93" x2="192.9" y2="177.93" stroke="#d62728" stroke-width="0.90"/>
<text x="199.40" y="180.83" text-anchor="start" textLength="130.47" lengthAdjust="spacingAndGlyphs">LogisticRegression (AUC = 0.84)</text>
<line x1="176.5" y1="189.79" x2="192.9" y2="189.79" stroke="#9467bd" stroke-width="0.90"/>
<text x="199.40" y="192.69" text-anchor="start" textLength="93.89" lengthAdjust="spacingAndGlyphs">AdaBoost (AUC = 0.83)</text>
<line x1="176.5" y1="201.65" x2="192.9" y2="201.65" stroke="#8c564b" stroke-width="0.90"/>
<text x="199.40" y="204.55" text-anchor="start" textLength="113.55" lengthAdjust="spacingAndGlyphs">GradientBoost (AUC = 0.86)</text>
<line x1="176.5" y1="213.51" x2="192.9" y2="213.51" stroke="#e377c2" stroke-width="0.90"/>
<text x="199.40" y="216.41" text-anchor="start" textLength="92.19" lengthAdjust="spacingAndGlyphs">CatBoost (AUC = 0.87)</text>
<line x1="176.5" y1="225.37" x2="192.9" y2="225.37" stroke="#7f7f7f" stroke-width="0.90"/>
<text x="199.40" y="228.27" text-anchor="start" textLength="93.78" lengthAdjust="spacingAndGlyphs">ExtraTree (AUC = 0.99)</text>
</g>
<text x="185.20" y="278.6" text-anchor="middle" font-family="'Liberation Serif', serif" font-weight="bold" font-size="14px" fill="#111">(a)</text>
</g>
<g transform="translate(345.80,0)">
<g fill="none" stroke-width="1.10" stroke-linejoin="round" stroke-linecap="butt">
<path d="M44.8 226.4 L46.0 195.0 L46.3 161.0 L47.7 125.8 L48.1 100.0 L49.2 81.0 L52.8 41.0 L55.7 29.2 L59.4 24.1 L66.2 19.5 L74.0 16.0 L84.2 14.6 L96.2 12.6 L109.2 11.8 L324.0 11.4" stroke="#1f77b4"/>
<path d="M44.8 226.4 L45.2 200.0 L45.5 126.0 L47.2 124.6 L49.2 122.9 L49.4 100.0 L49.9 81.0 L53.6 40.0 L55.7 38.7 L56.7 27.0 L59.2 24.5 L62.2 22.5 L65.2 20.4 L68.7 20.2 L72.5 19.0 L73.7 17.2 L79.8 16.8 L84.2 15.4 L88.6 14.6 L94.2 13.2 L104.2 12.0 L324.0 11.4" stroke="#ff7f0e"/>
<path d="M44.8 226.4 L47.7 195.0 L51.4 160.0 L55.0 120.0 L56.5 80.0 L57.9 40.0 L58.7 27.0 L59.4 23.2 L61.6 22.6 L120.2 22.6 L324.0 11.4" stroke="#2ca02c"/>
<path d="M44.8 226.4 L45.1 190.0 L45.5 140.0 L45.8 60.0 L46.4 45.0 L48.4 36.5 L52.1 29.2 L55.2 26.0 L59.4 23.4 L65.2 19.0 L74.0 15.3 L85.7 13.9 L100.2 13.4 L182.2 13.3 L188.2 12.4 L254.2 12.2 L274.2 11.6 L324.0 11.4" stroke="#d62728"/>
<path d="M44.8 226.4 L60.1 195.0 L59.8 24.1 L113.4 24.1 L113.8 23.5 L283.7 23.5 L324.0 11.4" stroke="#9467bd"/>
<path d="M44.8 226.4 L45.0 190.0 L45.3 140.0 L45.4 66.3 L59.7 25.2 L110.2 11.6 L324.0 11.4" stroke="#8c564b"/>
<path d="M44.8 226.4 L45.1 190.0 L45.8 140.0 L47.7 81.0 L48.4 41.0 L52.1 35.0 L57.2 27.7 L63.8 20.4 L74.0 16.1 L88.6 13.9 L254.2 13.8 L266.2 12.2 L324.0 11.4" stroke="#e377c2"/>
<path d="M44.8 226.4 L44.9 150.0 L44.8 81.0 L45.5 44.4 L47.7 38.0 L49.9 32.1 L54.2 26.0 L59.4 21.9 L69.6 16.0 L77.2 13.8 L85.7 12.4 L95.9 11.9 L324.0 11.4" stroke="#7f7f7f"/>
</g>
<rect x="31.15" y="0.86" width="306.90" height="236.28" fill="none" stroke="#8a8a8a" stroke-width="1.40"/>
<g stroke="#3a3a3a" stroke-width="0.9">
<line x1="45.10" y1="237.14" x2="45.10" y2="239.94"/>
<line x1="28.35" y1="226.40" x2="31.15" y2="226.40"/>
<line x1="100.90" y1="237.14" x2="100.90" y2="239.94"/>
<line x1="28.35" y1="183.44" x2="31.15" y2="183.44"/>
<line x1="156.70" y1="237.14" x2="156.70" y2="239.94"/>
<line x1="28.35" y1="140.48" x2="31.15" y2="140.48"/>
<line x1="212.50" y1="237.14" x2="212.50" y2="239.94"/>
<line x1="28.35" y1="97.52" x2="31.15" y2="97.52"/>
<line x1="268.30" y1="237.14" x2="268.30" y2="239.94"/>
<line x1="28.35" y1="54.56" x2="31.15" y2="54.56"/>
<line x1="324.10" y1="237.14" x2="324.10" y2="239.94"/>
<line x1="28.35" y1="11.60" x2="31.15" y2="11.60"/>
</g>
<g fill="#222" font-size="8.50px">
<text x="45.10" y="249.25" text-anchor="middle" textLength="12.82" lengthAdjust="spacingAndGlyphs">0.0</text>
<text x="25.50" y="229.70" text-anchor="end" textLength="12.82" lengthAdjust="spacingAndGlyphs">0.0</text>
<text x="100.90" y="249.25" text-anchor="middle" textLength="12.82" lengthAdjust="spacingAndGlyphs">0.2</text>
<text x="25.50" y="186.74" text-anchor="end" textLength="12.82" lengthAdjust="spacingAndGlyphs">0.2</text>
<text x="156.70" y="249.25" text-anchor="middle" textLength="12.82" lengthAdjust="spacingAndGlyphs">0.4</text>
<text x="25.50" y="143.78" text-anchor="end" textLength="12.82" lengthAdjust="spacingAndGlyphs">0.4</text>
<text x="212.50" y="249.25" text-anchor="middle" textLength="12.82" lengthAdjust="spacingAndGlyphs">0.6</text>
<text x="25.50" y="100.82" text-anchor="end" textLength="12.82" lengthAdjust="spacingAndGlyphs">0.6</text>
<text x="268.30" y="249.25" text-anchor="middle" textLength="12.82" lengthAdjust="spacingAndGlyphs">0.8</text>
<text x="25.50" y="57.86" text-anchor="end" textLength="12.82" lengthAdjust="spacingAndGlyphs">0.8</text>
<text x="324.10" y="249.25" text-anchor="middle" textLength="12.82" lengthAdjust="spacingAndGlyphs">1.0</text>
<text x="25.50" y="14.90" text-anchor="end" textLength="12.82" lengthAdjust="spacingAndGlyphs">1.0</text>
<text x="184.60" y="259.50" text-anchor="middle" textLength="74.91" lengthAdjust="spacingAndGlyphs">False Positive Rate</text>
<text x="0.00" y="0.00" text-anchor="middle" textLength="71.80" lengthAdjust="spacingAndGlyphs" transform="translate(8.2,119.00) rotate(-90)">True Positive Rate</text>
<rect x="173.40" y="135.50" width="160.90" height="97.30" rx="1.6" fill="#fff" fill-opacity="0.8" stroke="#d6d6d6" stroke-width="0.8"/>
<line x1="176.5" y1="142.35" x2="192.9" y2="142.35" stroke="#1f77b4" stroke-width="0.90"/>
<text x="199.40" y="145.25" text-anchor="start" textLength="72.02" lengthAdjust="spacingAndGlyphs">MLP (AUC = 0.98)</text>
<line x1="176.5" y1="154.21" x2="192.9" y2="154.21" stroke="#ff7f0e" stroke-width="0.90"/>
<text x="199.40" y="157.11" text-anchor="start" textLength="90.23" lengthAdjust="spacingAndGlyphs">XGBoost (AUC = 0.98)</text>
<line x1="176.5" y1="166.07" x2="192.9" y2="166.07" stroke="#2ca02c" stroke-width="0.90"/>
<text x="199.40" y="168.97" text-anchor="start" textLength="113.82" lengthAdjust="spacingAndGlyphs">RandomForest (AUC = 0.94)</text>
<line x1="176.5" y1="177.93" x2="192.9" y2="177.93" stroke="#d62728" stroke-width="0.90"/>
<text x="199.40" y="180.83" text-anchor="start" textLength="130.47" lengthAdjust="spacingAndGlyphs">LogisticRegression (AUC = 0.99)</text>
<line x1="176.5" y1="189.79" x2="192.9" y2="189.79" stroke="#9467bd" stroke-width="0.90"/>
<text x="199.40" y="192.69" text-anchor="start" textLength="93.89" lengthAdjust="spacingAndGlyphs">AdaBoost (AUC = 0.90)</text>
<line x1="176.5" y1="201.65" x2="192.9" y2="201.65" stroke="#8c564b" stroke-width="0.90"/>
<text x="199.40" y="204.55" text-anchor="start" textLength="113.55" lengthAdjust="spacingAndGlyphs">GradientBoost (AUC = 0.98)</text>
<line x1="176.5" y1="213.51" x2="192.9" y2="213.51" stroke="#e377c2" stroke-width="0.90"/>
<text x="199.40" y="216.41" text-anchor="start" textLength="92.19" lengthAdjust="spacingAndGlyphs">CatBoost (AUC = 0.98)</text>
<line x1="176.5" y1="225.37" x2="192.9" y2="225.37" stroke="#7f7f7f" stroke-width="0.90"/>
<text x="199.40" y="228.27" text-anchor="start" textLength="93.78" lengthAdjust="spacingAndGlyphs">ExtraTree (AUC = 0.99)</text>
</g>
<text x="178.70" y="278.6" text-anchor="middle" font-family="'Liberation Serif', serif" font-weight="bold" font-size="14px" fill="#111">(b)</text>
</g>
</svg>
</body></html>
